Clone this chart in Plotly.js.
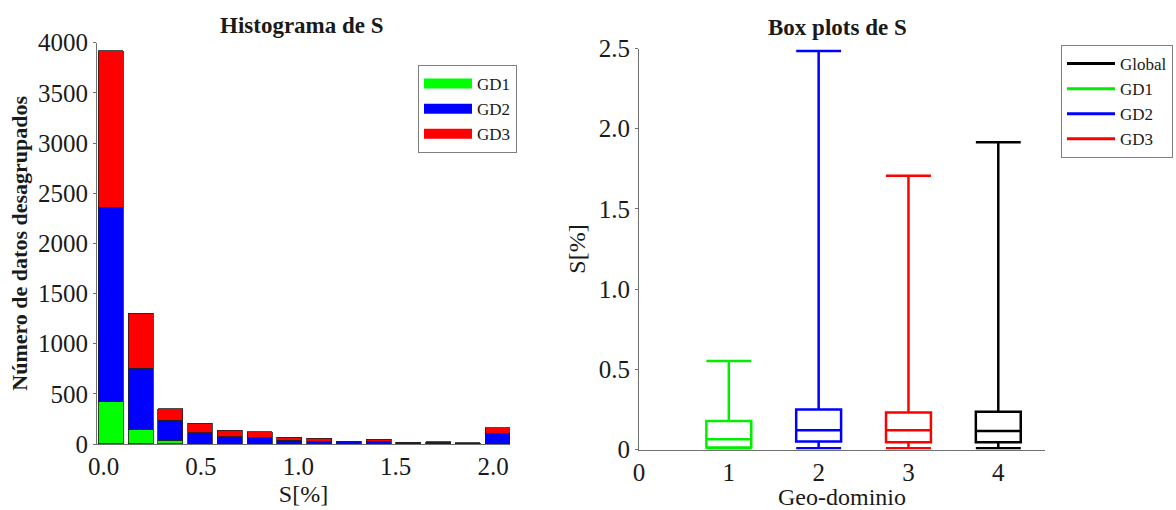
<!DOCTYPE html>
<html>
<head>
<meta charset="utf-8">
<script src="https://cdn.plot.ly/plotly-3.0.1.min.js"></script>
<style>
  html, body { margin: 0; padding: 0; background: #ffffff; }
  #chart { width: 1176px; height: 510px; }
</style>
</head>
<body>
<div id="chart"></div>
<script>
// Histogram of S: bin centres and counts per geo-domain (stacked)
const binCenters = [0.037, 0.190, 0.343, 0.495, 0.648, 0.801, 0.954, 1.107, 1.259, 1.412, 1.565, 1.718, 1.871, 2.023];
const countsGD1 = [422, 140, 37, 5, 2, 1, 0, 0, 0, 0, 0, 0, 0, 0];
const countsGD2 = [1934, 615, 202, 108, 71, 59, 37, 20, 20, 27, 12, 16, 6, 103];
const countsGD3 = [1565, 550, 113, 93, 63, 63, 30, 37, 7, 20, 5, 4, 4, 57];
const histNames = ['GD1', 'GD2', 'GD3'];
const histColors = ['#00ff00', '#0000ff', '#ff0000'];
const histTickVals = [0, 0.5, 1.0, 1.5, 2.0];
const histTickText = ['0.0', '0.5', '1.0', '1.5', '2.0'];

// Box plot summary statistics of S per geo-domain
const boxNames = ['GD1', 'GD2', 'GD3', 'Global'];
const boxPositions = [1, 2, 3, 4];
const boxLower = [0.002, 0.008, 0.008, 0.008];
const boxQ1 = [0.012, 0.050, 0.045, 0.045];
const boxMedian = [0.064, 0.120, 0.120, 0.115];
const boxQ3 = [0.178, 0.250, 0.230, 0.235];
const boxUpper = [0.552, 2.484, 1.707, 1.915];
const boxColors = ['#00ee00', '#0000ff', '#ff0000', '#000000'];
const boxLegendOrder = ['Global', 'GD1', 'GD2', 'GD3'];
const boxLegendColors = ['#000000', '#00ee00', '#0000ff', '#ff0000'];
const boxYTickVals = [0, 0.5, 1.0, 1.5, 2.0, 2.5];
const boxYTickText = ['0', '0.5', '1.0', '1.5', '2.0', '2.5'];
const boxXTickVals = [0, 1, 2, 3, 4];

const serif = 'Liberation Serif';
const textColor = '#1a1a1a';
const axisGray = '#707070';

const histCounts = [countsGD1, countsGD2, countsGD3];
const traces = [];

histNames.forEach((name, i) => {
  traces.push({
    type: 'bar',
    name: name,
    x: binCenters,
    y: histCounts[i],
    width: 0.128,
    marker: { color: histColors[i], line: { color: '#202020', width: 0.8 } },
    xaxis: 'x', yaxis: 'y',
    showlegend: false,
    hoverinfo: 'x+y+name'
  });
});

// Wide colour swatches for the histogram legend
histNames.forEach((name, i) => {
  traces.push({
    type: 'scatter',
    mode: 'lines',
    name: name,
    x: [null], y: [null],
    line: { color: histColors[i], width: 17 },
    xaxis: 'x', yaxis: 'y',
    legend: 'legend',
    hoverinfo: 'skip'
  });
});

boxNames.forEach((name, i) => {
  traces.push({
    type: 'box',
    name: name,
    x: [boxPositions[i]],
    q1: [boxQ1[i]],
    median: [boxMedian[i]],
    q3: [boxQ3[i]],
    lowerfence: [boxLower[i]],
    upperfence: [boxUpper[i]],
    width: 0.5,
    whiskerwidth: 1,
    boxpoints: false,
    line: { color: boxColors[i], width: 2.5 },
    fillcolor: 'rgba(255,255,255,0)',
    xaxis: 'x2', yaxis: 'y2',
    showlegend: false
  });
});

// Line entries for the box-plot legend
boxLegendOrder.forEach((name, i) => {
  traces.push({
    type: 'scatter',
    mode: 'lines',
    name: name,
    x: [null], y: [null],
    line: { color: boxLegendColors[i], width: 3 },
    xaxis: 'x2', yaxis: 'y2',
    legend: 'legend2',
    hoverinfo: 'skip'
  });
});

const W = 1176, H = 510;
const px = v => v / W;
const py = v => 1 - v / H;

const tickFont = { family: serif, size: 25, color: textColor };
const legendFont = { family: serif, size: 17, color: textColor };

const layout = {
  width: W, height: H,
  margin: { l: 0, r: 0, t: 0, b: 0 },
  paper_bgcolor: '#ffffff',
  plot_bgcolor: '#ffffff',
  font: { family: serif, size: 18, color: textColor },
  barmode: 'stack',
  bargap: 0,
  xaxis: {
    domain: [px(97), px(510)],
    range: [-0.034, 2.087],
    tickvals: histTickVals,
    ticktext: histTickText,
    tickfont: tickFont,
    ticks: '',
    showgrid: false, zeroline: false,
    showline: true, linecolor: axisGray, linewidth: 1,
    title: { text: 'S[%]', font: { family: serif, size: 24, color: textColor }, standoff: 6 },
    anchor: 'y'
  },
  yaxis: {
    domain: [py(444), py(42.7)],
    range: [0, 4000],
    dtick: 500,
    tickfont: tickFont,
    ticks: 'outside', ticklen: 3, tickcolor: axisGray,
    showgrid: false, zeroline: false,
    showline: true, linecolor: axisGray, linewidth: 1,
    title: { text: 'Número de datos desagrupados', font: { family: serif, size: 22, color: textColor, weight: 700 }, standoff: 4 },
    anchor: 'x'
  },
  xaxis2: {
    domain: [px(639), px(1045)],
    range: [0, 4.52],
    tickvals: boxXTickVals,
    tickfont: tickFont,
    ticks: '',
    showgrid: false, zeroline: false,
    showline: true, linecolor: axisGray, linewidth: 1,
    title: { text: 'Geo-dominio', font: { family: serif, size: 24, color: textColor }, standoff: 4 },
    anchor: 'y2'
  },
  yaxis2: {
    domain: [py(449.5), py(48.5)],
    range: [0, 2.5],
    tickvals: boxYTickVals,
    ticktext: boxYTickText,
    tickfont: tickFont,
    ticks: 'outside', ticklen: 3, tickcolor: axisGray,
    showgrid: false, zeroline: false,
    showline: true, linecolor: axisGray, linewidth: 1,
    title: { text: 'S[%]', font: { family: serif, size: 24, color: textColor }, standoff: 6 },
    anchor: 'x2'
  },
  legend: {
    x: px(418), y: py(65), xanchor: 'left', yanchor: 'top',
    traceorder: 'normal',
    bgcolor: '#ffffff', bordercolor: '#808080', borderwidth: 1,
    font: legendFont,
    itemwidth: 48,
    tracegroupgap: 0
  },
  legend2: {
    x: px(1061), y: py(45), xanchor: 'left', yanchor: 'top',
    traceorder: 'normal',
    bgcolor: '#ffffff', bordercolor: '#808080', borderwidth: 1,
    font: legendFont,
    itemwidth: 48,
    tracegroupgap: 0
  },
  annotations: [
    {
      text: '<b>Histograma de S</b>', xref: 'paper', yref: 'paper',
      x: px(302), y: py(25), xanchor: 'center', yanchor: 'middle',
      showarrow: false, font: { family: serif, size: 23, color: textColor }
    },
    {
      text: '<b>Box plots de S</b>', xref: 'paper', yref: 'paper',
      x: px(837), y: py(27), xanchor: 'center', yanchor: 'middle',
      showarrow: false, font: { family: serif, size: 23, color: textColor }
    }
  ],
  showlegend: true
};

Plotly.newPlot('chart', traces, layout, { displayModeBar: false, staticPlot: true });
</script>
</body>
</html>
